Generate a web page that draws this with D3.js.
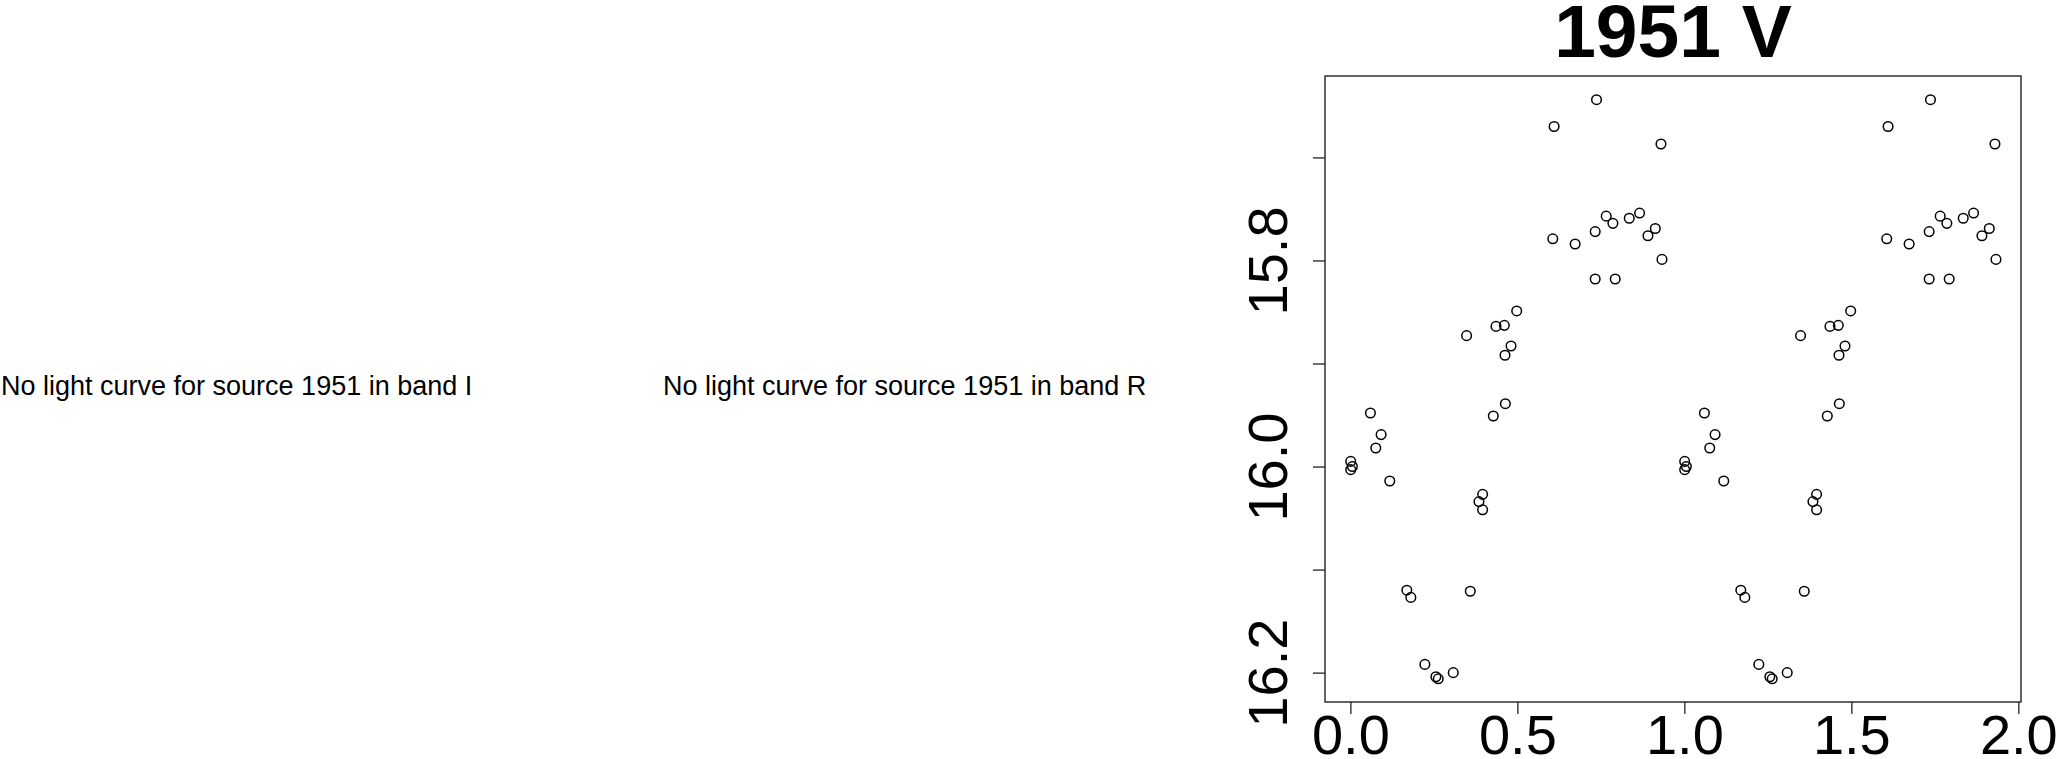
<!DOCTYPE html>
<html>
<head>
<meta charset="utf-8">
<script src="https://cdn.jsdelivr.net/npm/d3@7"></script>
<style>
  html, body { margin:0; padding:0; background:#fff; }
  svg { display:block; font-family: "Liberation Sans", Arial, Helvetica, sans-serif; }
</style>
</head>
<body>
<div id="chart"></div>
<script>
// Light curve for source 1951, band V (phase-folded, shown over two cycles)
const phase = [0.001, 0.006, 0.001, 0.060, 0.076, 0.092, 0.118, 0.169, 0.181, 0.223,
               0.256, 0.263, 0.308, 0.348, 0.359, 0.385, 0.396, 0.396, 0.428, 0.436,
               0.461, 0.463, 0.464, 0.481, 0.498, 0.606, 0.610, 0.673, 0.733, 0.733,
               0.737, 0.766, 0.786, 0.793, 0.835, 0.866, 0.891, 0.913, 0.930, 0.933];
const mag   = [15.995, 16.000, 16.003, 15.948, 15.982, 15.969, 16.014, 16.120, 16.127, 16.192,
               16.204, 16.206, 16.200, 15.873, 16.121, 16.034, 16.027, 16.042, 15.951, 15.864,
               15.863, 15.892, 15.939, 15.883, 15.849, 15.779, 15.670, 15.784, 15.772, 15.818,
               15.644, 15.757, 15.764, 15.818, 15.759, 15.754, 15.776, 15.769, 15.687, 15.799];
const cycles = [0, 1];
const xTicks = [0, 0.5, 1, 1.5, 2];
const yTicks = [15.7, 15.8, 15.9, 16.0, 16.1, 16.2];
const yLabels = [15.8, 16.0, 16.2];
const title = '1951 V';
const missingBands = ['I', 'R'];

(function(){
  const width = 2058, height = 759;
  const box = {left:1325, right:2021, top:76, bottom:702};

  const svg = d3.select('#chart').append('svg')
    .attr('width', width)
    .attr('height', height);

  // empty panels for the bands without data
  const msgX = [1, 663];
  missingBands.forEach((b,i) => {
    svg.append('text')
      .attr('x', msgX[i])
      .attr('y', 395)
      .attr('font-size', '27px')
      .attr('fill', '#000')
      .text(`No light curve for source 1951 in band ${b}`);
  });

  // scales (magnitudes: brighter up)
  const x = d3.scaleLinear().domain([-0.076, 2.008]).range([box.left, box.right]);
  const y = d3.scaleLinear().domain([15.621, 16.2285]).range([box.top, box.bottom]);

  // points repeated over two phase cycles
  const pts = [];
  cycles.forEach(c => phase.forEach((p,i) => pts.push({p: p + c, m: mag[i]})));

  svg.append('g').selectAll('circle').data(pts).enter().append('circle')
    .attr('cx', d => x(d.p))
    .attr('cy', d => y(d.m))
    .attr('r', 4.8)
    .attr('fill', 'none')
    .attr('stroke', '#000')
    .attr('stroke-width', 1.5);

  // frame
  svg.append('rect')
    .attr('x', box.left)
    .attr('y', box.top)
    .attr('width', box.right - box.left)
    .attr('height', box.bottom - box.top)
    .attr('fill', 'none')
    .attr('stroke', '#222')
    .attr('stroke-width', 1.4);

  // x axis
  const gx = svg.append('g')
    .attr('transform', `translate(0,${box.bottom})`)
    .call(d3.axisBottom(x).tickValues(xTicks).tickFormat(d3.format('.1f')).tickSize(12).tickSizeOuter(0));
  gx.select('.domain').remove();
  gx.selectAll('line').attr('stroke', '#222').attr('stroke-width', 1.3);
  gx.selectAll('text')
    .attr('y', 52)
    .attr('dy', 0)
    .attr('font-size', '56px')
    .attr('font-family', '"Liberation Sans", Arial, Helvetica, sans-serif')
    .attr('fill', '#000');

  // y axis, labels rotated like R's default
  const gy = svg.append('g')
    .attr('transform', `translate(${box.left},0)`)
    .call(d3.axisLeft(y).tickValues(yTicks)
      .tickFormat(d => yLabels.some(v => Math.abs(v - d) < 1e-6) ? d3.format('.1f')(d) : '')
      .tickSize(12).tickSizeOuter(0));
  gy.select('.domain').remove();
  gy.selectAll('line').attr('stroke', '#222').attr('stroke-width', 1.3);
  gy.selectAll('text')
    .attr('transform', 'rotate(-90)')
    .attr('x', 0)
    .attr('y', -38)
    .attr('dy', 0)
    .attr('text-anchor', 'middle')
    .attr('font-size', '56px')
    .attr('font-family', '"Liberation Sans", Arial, Helvetica, sans-serif')
    .attr('fill', '#000');

  // title
  svg.append('text')
    .attr('x', (box.left + box.right) / 2)
    .attr('y', 57)
    .attr('text-anchor', 'middle')
    .attr('font-size', '75px')
    .attr('font-weight', 'bold')
    .attr('fill', '#000')
    .text(title);
})();
</script>
</body>
</html>
